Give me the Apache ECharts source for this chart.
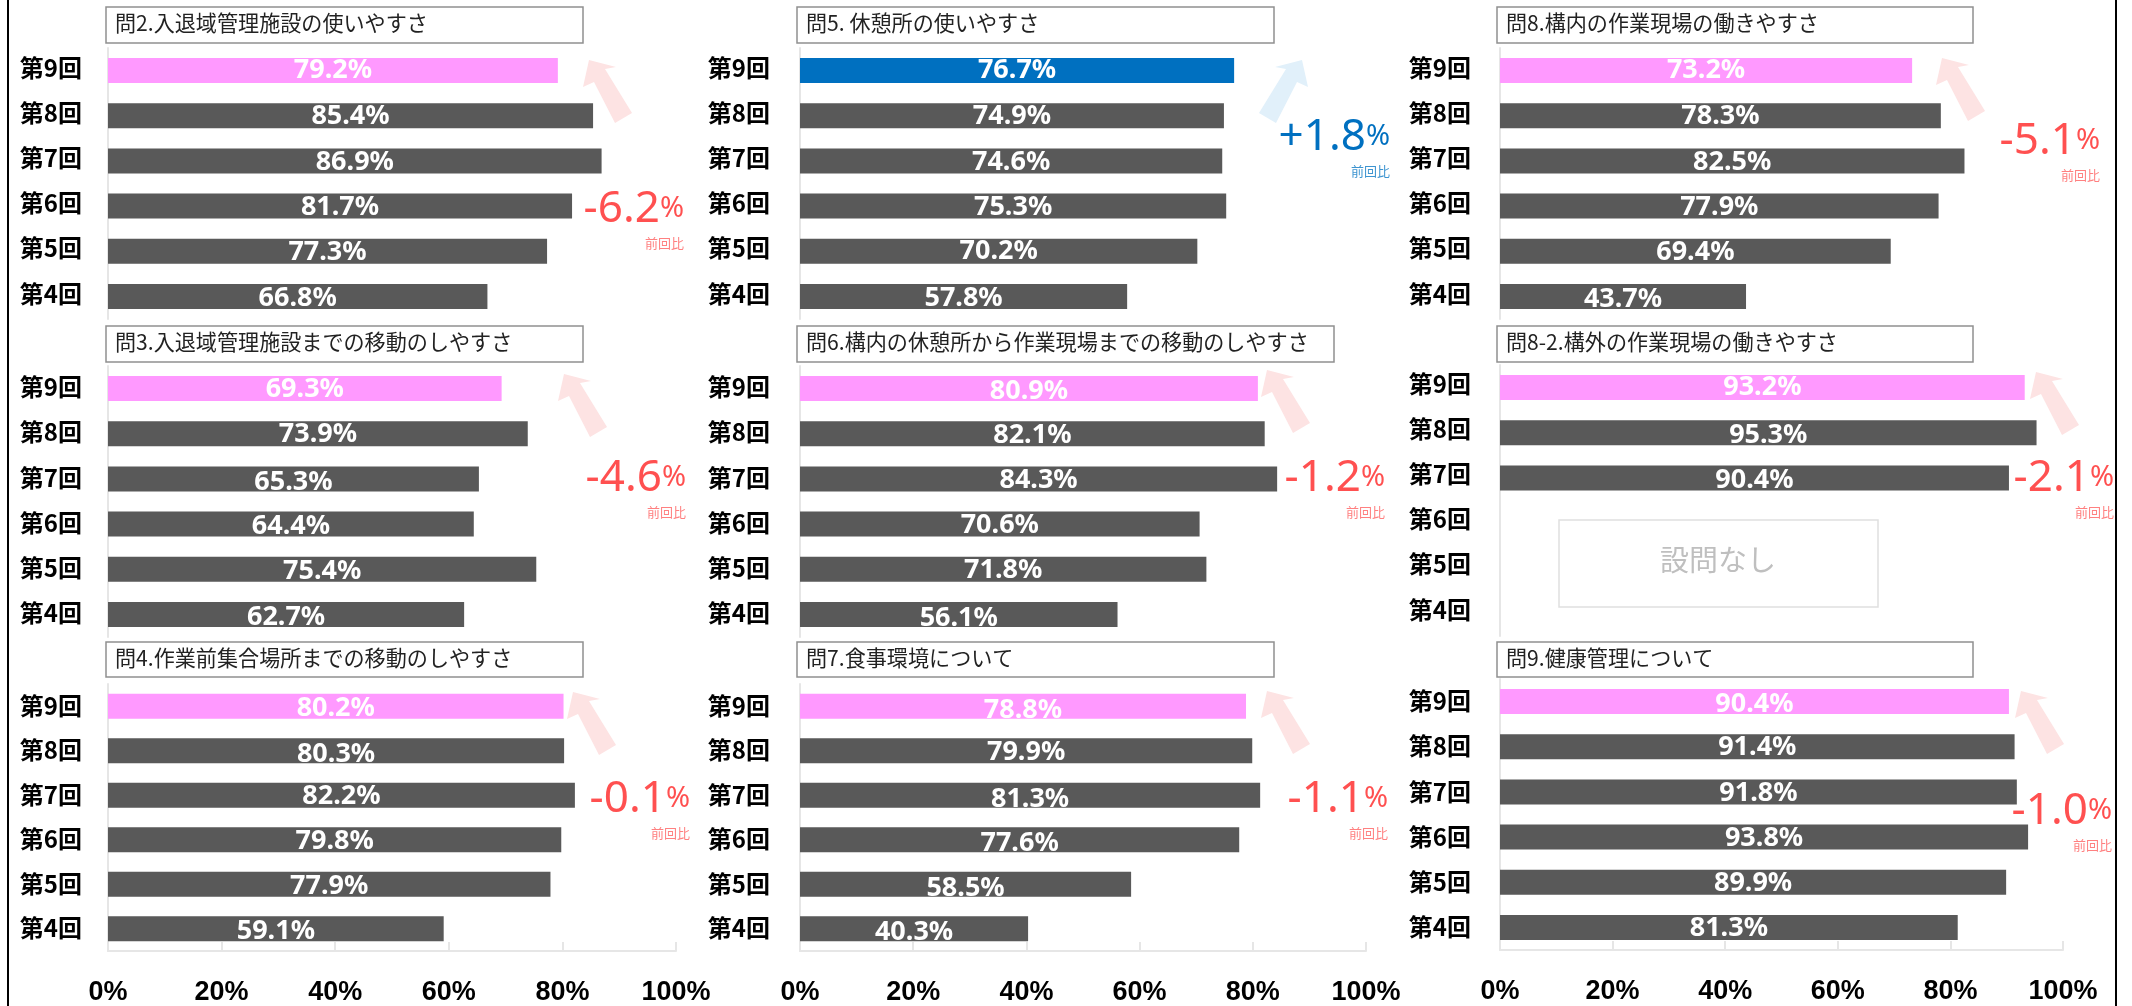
<!DOCTYPE html>
<html lang="ja">
<head>
<meta charset="utf-8">
<title>Survey</title>
<style>
  html, body { margin: 0; background: #fff; }
  #chart { width: 2132px; height: 1006px; }
</style>
<script src="https://cdn.jsdelivr.net/npm/echarts@6/dist/echarts.min.js"></script>
</head>
<body>
<div id="chart"></div>
<script>
const rounds = ["第9回", "第8回", "第7回", "第6回", "第5回", "第4回"];
const xTicks = [0, 20, 40, 60, 80, 100];

const q2 = [79.2, 85.4, 86.9, 81.7, 77.3, 66.8];
const q3 = [69.3, 73.9, 65.3, 64.4, 75.4, 62.7];
const q4 = [80.2, 80.3, 82.2, 79.8, 77.9, 59.1];
const q5 = [76.7, 74.9, 74.6, 75.3, 70.2, 57.8];
const q6 = [80.9, 82.1, 84.3, 70.6, 71.8, 56.1];
const q7 = [78.8, 79.9, 81.3, 77.6, 58.5, 40.3];
const q8 = [73.2, 78.3, 82.5, 77.9, 69.4, 43.7];
const q82 = [93.2, 95.3, 90.4, null, null, null];
const q9 = [90.4, 91.4, 91.8, 93.8, 89.9, 81.3];

const titles = [
  "問2.入退域管理施設の使いやすさ",
  "問3.入退域管理施設までの移動のしやすさ",
  "問4.作業前集合場所までの移動のしやすさ",
  "問5. 休憩所の使いやすさ",
  "問6.構内の休憩所から作業現場までの移動のしやすさ",
  "問7.食事環境について",
  "問8.構内の作業現場の働きやすさ",
  "問8-2.構外の作業現場の働きやすさ",
  "問9.健康管理について",
];
const deltas = ["-6.2", "-4.6", "-0.1", "+1.8", "-1.2", "-1.1", "-5.1", "-2.1", "-1.0"];
const allValues = [q2, q3, q4, q5, q6, q7, q8, q82, q9];

// layout of each panel, same order as titles
const panels = [
  { left: 108, right: 676, top: 48, bottom: 319, boxL: 106, boxR: 583, boxT: 7, boxB: 43, tip: [589, 60], dR: 684, dB: 222, catLift: 3, drop: [0, 1, 1, 1, 1, 2] },
  { left: 108, right: 676, top: 366, bottom: 637, boxL: 106, boxR: 583, boxT: 326, boxB: 362, tip: [564, 374], dR: 686, dB: 491, catLift: 1.5, drop: [1, 1, 3, 2, 2, 3] },
  { left: 108, right: 676, top: 684, bottom: 957, boxL: 106, boxR: 583, boxT: 642, boxB: 677, tip: [573, 692], dR: 690, dB: 812, catLift: 0.5, drop: [2, 4, 1, 2, 2, 3], axis: true },
  { left: 800, right: 1366, top: 48, bottom: 319, boxL: 797, boxR: 1274, boxT: 7, boxB: 43, tip: [1302, 60], dR: 1390, dB: 150, catLift: 3, drop: [0, 1, 1, 1, 0, 2], up: true },
  { left: 800, right: 1366, top: 366, bottom: 637, boxL: 797, boxR: 1334, boxT: 326, boxB: 362, tip: [1267, 370], dR: 1385, dB: 491, catLift: 1.5, drop: [3, 2, 1, 1, 1, 4] },
  { left: 800, right: 1366, top: 684, bottom: 957, boxL: 797, boxR: 1274, boxT: 642, boxB: 677, tip: [1267, 691], dR: 1388, dB: 812, catLift: 0.5, drop: [4, 2, 4, 4, 4, 4], axis: true },
  { left: 1500, right: 2063, top: 48, bottom: 319, boxL: 1497, boxR: 1973, boxT: 7, boxB: 43, tip: [1942, 58], dR: 2100, dB: 154, catLift: 3, drop: [0, 1, 1, 1, 1, 3] },
  { left: 1500, right: 2063, top: 365, bottom: 636, boxL: 1497, boxR: 1973, boxT: 326, boxB: 362, tip: [2036, 372], dR: 2114, dB: 491, catLift: 4, drop: [0, 3, 2, 0, 0, 0] },
  { left: 1500, right: 2063, top: 679, bottom: 950, boxL: 1497, boxR: 1973, boxT: 642, boxB: 677, tip: [2021, 691], dR: 2112, dB: 824, catLift: 0.5, drop: [3, 1, 1, 1, 1, 1], axis: true },
];
const catMargins = [26, 26, 26, 30, 30, 30, 29, 29, 29];

const jpFont = "'Noto Sans CJK JP', 'Noto Sans', sans-serif";
const grey = "#e6e6e6";
const upColor = "#0070c0";
const downColor = "#ff5050";

const grids = [];
const xAxes = [];
const yAxes = [];
const series = [];
const graphics = [];

panels.forEach((p, i) => {
  const isUp = p.up === true;
  grids.push({ left: p.left, width: p.right - p.left, top: p.top, height: p.bottom - p.top });

  xAxes.push({
    gridIndex: i,
    type: "value",
    min: 0,
    max: 100,
    interval: xTicks[1],
    splitLine: { show: false },
    axisLine: { show: !!p.axis, lineStyle: { color: grey, width: 2 } },
    axisTick: { show: !!p.axis, inside: true, length: 9, lineStyle: { color: grey, width: 2 } },
    axisLabel: {
      show: !!p.axis,
      margin: 28,
      formatter: "{value}%",
      color: "#000",
      fontFamily: "'Liberation Sans Narrow', 'Liberation Sans', sans-serif",
      fontWeight: "bold",
      fontSize: 27,
      hideOverlap: false,
      showMinLabel: true,
      showMaxLabel: true,
    },
  });

  yAxes.push({
    gridIndex: i,
    type: "category",
    inverse: true,
    data: rounds,
    axisLine: { onZero: false, lineStyle: { color: grey, width: 2 } },
    axisTick: { inside: true, length: 8, lineStyle: { color: grey, width: 2 } },
    axisLabel: {
      margin: catMargins[i],
      // a short line box anchored by its bottom lifts the text by half its height
      verticalAlign: "bottom",
      lineHeight: p.catLift * 2,
      color: "#000",
      fontFamily: jpFont,
      fontWeight: "bold",
      fontSize: 24,
    },
  });

  series.push({
    type: "bar",
    xAxisIndex: i,
    yAxisIndex: i,
    barWidth: 25,
    silent: true,
    data: allValues[i].map((v, k) => ({
      value: v,
      itemStyle: { color: k === 0 ? (isUp ? upColor : "#ff99ff") : "#595959" },
      label: { offset: [0, p.drop[k]] },
    })),
    label: {
      show: true,
      position: "inside",
      formatter: (d) => (d.value == null ? "" : d.value.toFixed(1) + "%"),
      color: "#fff",
      fontFamily: "'Noto Sans', sans-serif",
      fontWeight: "bold",
      fontSize: 27,
    },
  });

  // question title box
  graphics.push({
    type: "rect",
    shape: { x: p.boxL, y: p.boxT, width: p.boxR - p.boxL, height: p.boxB - p.boxT },
    style: { fill: "#fff", stroke: "#909090", lineWidth: 1.5 },
    z: 10,
  });
  graphics.push({
    type: "text",
    x: p.boxL + 9,
    y: (p.boxT + p.boxB) / 2 - 2,
    style: {
      text: titles[i],
      fill: "#222",
      font: "21.1px " + jpFont,
      verticalAlign: "middle",
    },
    z: 11,
  });

  // arrow, tip first
  const m = isUp ? -1 : 1;
  const [tx, ty] = p.tip;
  const shape = [[0, 0], [27, 7], [16, 9], [43, 53], [26, 63], [5, 22], [-6, 27]];
  graphics.push({
    type: "polygon",
    shape: { points: shape.map(([a, b]) => [tx + m * a, ty + b]) },
    style: { fill: isUp ? "#e1f0fa" : "#fde3e3" },
    z: 5,
  });

  // change from last round
  const col = isUp ? upColor : downColor;
  graphics.push({
    type: "text",
    x: p.dR,
    y: p.dB + 9,
    style: {
      text: "{n|" + deltas[i] + "}{p|%}",
      align: "right",
      verticalAlign: "bottom",
      rich: {
        n: { fontFamily: "'Noto Sans', sans-serif", fontWeight: 400, fontSize: 44, fill: col, color: col },
        p: { fontFamily: "'Noto Sans', sans-serif", fontWeight: 400, fontSize: 29, fill: col, color: col },
      },
    },
    z: 12,
  });
  graphics.push({
    type: "text",
    x: p.dR,
    y: p.dB + 21,
    style: {
      text: "前回比",
      align: "right",
      verticalAlign: "middle",
      fill: isUp ? "#3d94d0" : "#ff8080",
      font: "13px " + jpFont,
    },
    z: 12,
  });
});

// 問8-2 had no question for rounds 4 to 6
graphics.push({
  type: "rect",
  shape: { x: 1559, y: 520, width: 319, height: 87 },
  style: { fill: "#fff", stroke: "#e0e0e0", lineWidth: 1.5 },
  z: 10,
});
graphics.push({
  type: "text",
  x: 1718,
  y: 560,
  style: {
    text: "設問なし",
    fill: "#bfbfbf",
    font: "29px " + jpFont,
    align: "center",
    verticalAlign: "middle",
  },
  z: 11,
});

// page frame
graphics.push({ type: "line", shape: { x1: 8, y1: 0, x2: 8, y2: 1006 }, style: { stroke: "#000", lineWidth: 2 } });
graphics.push({ type: "line", shape: { x1: 2116, y1: 0, x2: 2116, y2: 1006 }, style: { stroke: "#000", lineWidth: 2 } });

const chart = echarts.init(document.getElementById("chart"));
chart.setOption({
  animation: false,
  backgroundColor: "#fff",
  grid: grids,
  xAxis: xAxes,
  yAxis: yAxes,
  series: series,
  graphic: graphics,
});
</script>
</body>
</html>
